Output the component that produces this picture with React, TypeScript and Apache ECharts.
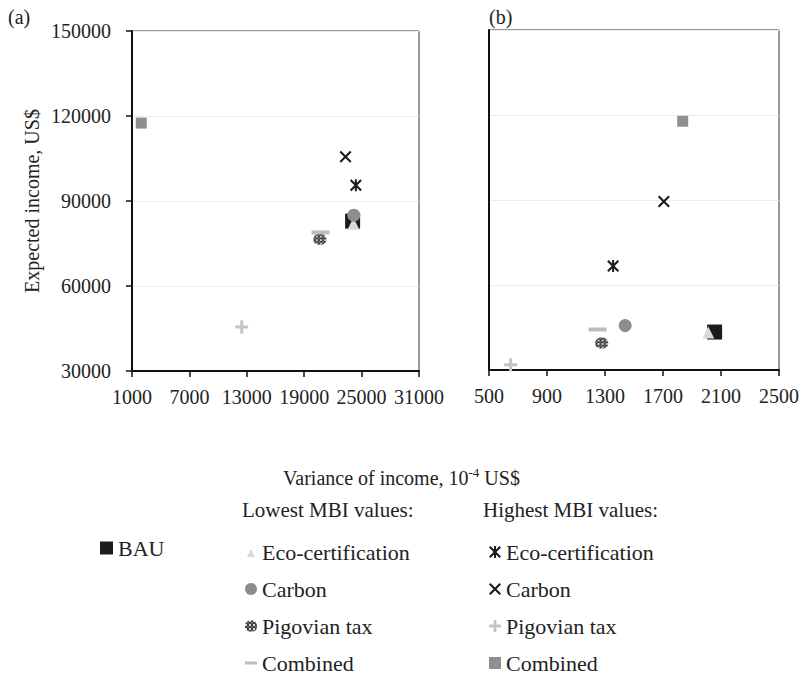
import React, { useEffect, useRef } from 'react';
import * as echarts from 'echarts';

// ---- data ----
const seriesKeys = [
  'BAU',
  'Eco-certification (lowest)',
  'Carbon (lowest)',
  'Pigovian tax (lowest)',
  'Combined (lowest)',
  'Eco-certification (highest)',
  'Carbon (highest)',
  'Pigovian tax (highest)',
  'Combined (highest)',
];
const legendLabels = [
  'BAU',
  'Eco-certification',
  'Carbon',
  'Pigovian tax',
  'Combined',
  'Eco-certification',
  'Carbon',
  'Pigovian tax',
  'Combined',
];
// panel (a)
const panelAVariance = [24060, 24150, 24190, 20640, 20710, 24400, 23320, 12470, 1970];
const panelAIncome = [82900, 82000, 85000, 76500, 78900, 95600, 105600, 45550, 117500];
// panel (b)
const panelBVariance = [2056, 2012, 1439, 1277, 1249, 1356, 1706, 649, 1836];
const panelBIncome = [43400, 43200, 45700, 39500, 44300, 66700, 89500, 31840, 117800];

const panelAXTicks = [1000, 7000, 13000, 19000, 25000, 31000];
const panelBXTicks = [500, 900, 1300, 1700, 2100, 2500];
const incomeTicks = [30000, 60000, 90000, 120000, 150000];

const panelTitles = ['(a)', '(b)'];
const yAxisTitle = 'Expected income, US$';
const lowestHeading = 'Lowest MBI values:';
const highestHeading = 'Highest MBI values:';

// ---- styles ----
const SERIF = 'Liberation Serif';
const PATH_X =
  'path://M0,1.5 L1.5,0 L6,4.5 L10.5,0 L12,1.5 L7.5,6 L12,10.5 L10.5,12 L6,7.5 L1.5,12 L0,10.5 L4.5,6 Z';
const PATH_AST =
  'path://M0,1.5 L1.5,0 L6,4.5 L10.5,0 L12,1.5 L7.5,6 L12,10.5 L10.5,12 L6,7.5 L1.5,12 L0,10.5 L4.5,6 Z M5,0 L7,0 L7,12 L5,12 Z';
const PATH_PLUS =
  'path://M4.6,0 L7.4,0 L7.4,4.6 L12,4.6 L12,7.4 L7.4,7.4 L7.4,12 L4.6,12 L4.6,7.4 L0,7.4 L0,4.6 L4.6,4.6 Z';
const PATH_OCT =
  'path://M4,0 L8,0 L11,2 L12,5 L12,7 L11,9.5 L8,11 L4,11 L1,9.5 L0,7 L0,5 L1,2 Z';
const PATH_DASH = 'path://M0,0 L12,0 L12,3 L0,3 Z';
const PATH_SMALL_TRI = 'path://M6,3 L10,11 L2,11 Z M0,0 M12,12';

const markerSymbols = ['rect', 'triangle', 'circle', PATH_OCT, 'rect', PATH_AST, PATH_X, PATH_PLUS, 'rect'];
const markerSizes: any[] = [15, 12, 13, [13, 11], [18, 4], 12, 12, 13, 11];
const markerColors: any[] = ['#1c1c1c', '#dadada', '#8d8d8d', '#4f4f4f', '#bdbdbd', '#1c1c1c', '#1c1c1c', '#c4c4c4', '#8f8f8f'];
const legendIcons = ['rect', PATH_SMALL_TRI, 'circle', PATH_OCT, PATH_DASH, PATH_AST, PATH_X, PATH_PLUS, 'rect'];

function checkerCanvas(): HTMLCanvasElement | null {
  const c = document.createElement('canvas');
  c.width = 4;
  c.height = 4;
  const ctx = c.getContext('2d');
  if (!ctx) return null;
  ctx.fillStyle = '#3a3a3a';
  ctx.fillRect(0, 0, 4, 4);
  ctx.fillStyle = '#d8d8d8';
  ctx.fillRect(0, 0, 2, 2);
  ctx.fillStyle = '#6a6a6a';
  ctx.fillRect(2, 2, 2, 2);
  return c;
}

export default function App() {
  const ref = useRef<HTMLDivElement>(null);

  useEffect(() => {
    if (!ref.current) return;
    const chart = echarts.init(ref.current, undefined, { renderer: 'svg' });

    const labelMap: Record<string, string> = {};
    seriesKeys.forEach((k, i) => (labelMap[k] = legendLabels[i]));

    const canvas = checkerCanvas();
    const colors = markerColors.slice();
    const legendColors = markerColors.slice();
    if (canvas) {
      colors[3] = { image: canvas, repeat: 'repeat', scaleX: 0.16, scaleY: 0.16 };
      legendColors[3] = { image: canvas, repeat: 'repeat' };
    }

    const series: any[] = [];
    seriesKeys.forEach((key, i) => {
      const common = {
        type: 'scatter',
        name: key,
        symbol: markerSymbols[i],
        symbolSize: markerSizes[i],
        symbolKeepAspect: false,
        itemStyle: { color: colors[i], opacity: 1 },
        emphasis: { disabled: true },
        z: 2 + i,
      };
      series.push({ ...common, xAxisIndex: 0, yAxisIndex: 0, data: [[panelAVariance[i], panelAIncome[i]]] });
      series.push({ ...common, xAxisIndex: 1, yAxisIndex: 1, data: [[panelBVariance[i], panelBIncome[i]]] });
    });

    const axisText = { color: '#222', fontFamily: SERIF, fontSize: 20 };
    const legendText = { color: '#222', fontFamily: SERIF, fontSize: 22 };
    const plain = (v: number) => String(v);

    const makeLegend = (idx: number[], left: number, top: number, w = 12) => ({
      left,
      top,
      orient: 'vertical',
      itemGap: 15,
      itemWidth: w,
      itemHeight: w,
      selectedMode: false,
      padding: 0,
      textStyle: legendText,
      formatter: (n: string) => labelMap[n],
      data: idx.map((i) => ({ name: seriesKeys[i], icon: legendIcons[i], itemStyle: { color: legendColors[i] } })),
    });

    const xAxisBase = (min: number, max: number, ticks: number[], gridIndex: number) => ({
      type: 'value',
      gridIndex,
      min,
      max,
      axisLine: { show: true, onZero: false, lineStyle: { color: '#111', width: 2 } },
      axisTick: { show: true, customValues: ticks, length: 6, lineStyle: { color: '#111', width: 1.5 } },
      axisLabel: { customValues: ticks, margin: 16, formatter: plain, ...axisText },
      splitLine: { show: false },
    });

    const option: any = {
      animation: false,
      backgroundColor: '#fff',
      textStyle: { fontFamily: SERIF },
      grid: [
        { left: 132, top: 31, width: 287, height: 340, show: true, borderColor: '#333', borderWidth: 1 },
        { left: 489, top: 30, width: 290, height: 340, show: true, borderColor: '#333', borderWidth: 1 },
      ],
      xAxis: [
        xAxisBase(panelAXTicks[0], panelAXTicks[panelAXTicks.length - 1], panelAXTicks, 0),
        xAxisBase(panelBXTicks[0], panelBXTicks[panelBXTicks.length - 1], panelBXTicks, 1),
      ],
      yAxis: [
        {
          type: 'value',
          gridIndex: 0,
          min: incomeTicks[0],
          max: incomeTicks[incomeTicks.length - 1],
          interval: incomeTicks[1] - incomeTicks[0],
          name: yAxisTitle,
          nameLocation: 'middle',
          nameGap: 90,
          nameTextStyle: { ...axisText },
          axisLine: { show: true, lineStyle: { color: '#111', width: 2 } },
          axisTick: { show: true, length: 6, lineStyle: { color: '#111', width: 1.5 } },
          axisLabel: { margin: 21, formatter: plain, ...axisText },
          splitLine: { show: true, lineStyle: { color: '#ececec', width: 1 } },
        },
        {
          type: 'value',
          gridIndex: 1,
          min: incomeTicks[0],
          max: incomeTicks[incomeTicks.length - 1],
          interval: incomeTicks[1] - incomeTicks[0],
          axisLine: { show: true, lineStyle: { color: '#111', width: 2 } },
          axisTick: { show: false },
          axisLabel: { show: false },
          splitLine: { show: true, lineStyle: { color: '#ececec', width: 1 } },
        },
      ],
      legend: [
        { ...makeLegend([0], 100, 537, 13) },
        { ...makeLegend([1, 2, 3, 4], 245, 541) },
        { ...makeLegend([5, 6, 7, 8], 489, 541) },
      ],
      graphic: [
        { type: 'text', left: 8, top: 7, style: { text: panelTitles[0], font: `20px ${SERIF}`, fill: '#222' } },
        { type: 'text', left: 489, top: 7, style: { text: panelTitles[1], font: `20px ${SERIF}`, fill: '#222' } },
        { type: 'text', left: 242, top: 499, style: { text: lowestHeading, font: `21px ${SERIF}`, fill: '#222' } },
        { type: 'text', left: 483, top: 499, style: { text: highestHeading, font: `21px ${SERIF}`, fill: '#222' } },
        {
          type: 'text',
          left: 'center',
          top: 466,
          style: {
            text: 'Variance of income, 10{sup|-4} US$',
            fill: '#222',
            fontFamily: SERIF,
            fontSize: 20,
            verticalAlign: 'bottom',
            lineHeight: 24,
            rich: {
              sup: { fontSize: 13, fontFamily: SERIF, fill: '#222', verticalAlign: 'top', lineHeight: 24 },
            },
          },
        },
      ],
      series,
    };

    chart.setOption(option);
    return () => chart.dispose();
  }, []);

  return <div ref={ref} style={{ position: 'absolute', left: 0, top: 0, width: 803, height: 676 }} />;
}
